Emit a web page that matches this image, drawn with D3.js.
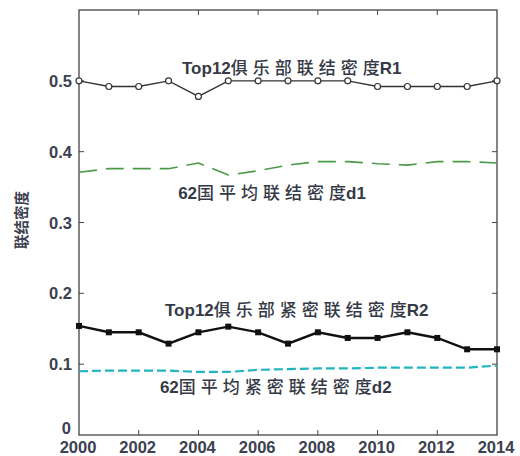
<!DOCTYPE html>
<html>
<head>
<meta charset="utf-8">
<script src="https://cdnjs.cloudflare.com/ajax/libs/d3/7.8.5/d3.min.js"></script>
<style>
  body { margin: 0; background: #fff; }
  svg { font-family: "Liberation Sans", "Noto Sans CJK SC", sans-serif; }
  .tick-label { font-size: 16.5px; font-weight: bold; fill: #3b4150; }
  .series-label { font-size: 17px; fill: #353a46; }
  .series-label .latin { font-weight: bold; }
  .series-label .cjk, .series-label .cjk-last { font-family: "Noto Sans CJK SC", sans-serif; font-weight: 500; }
  .series-label .cjk { letter-spacing: 5px; }
</style>
</head>
<body>
<div id="chart"></div>
<script>
// data
const years = d3.range(2000, 2015);
const r1 = [0.500, 0.492, 0.492, 0.500, 0.478, 0.500, 0.500, 0.500, 0.500, 0.500, 0.492, 0.492, 0.492, 0.492, 0.500];
const d1 = [0.371, 0.376, 0.376, 0.376, 0.384, 0.367, 0.373, 0.381, 0.386, 0.386, 0.383, 0.381, 0.386, 0.386, 0.384];
const r2 = [0.154, 0.145, 0.145, 0.129, 0.145, 0.153, 0.145, 0.129, 0.145, 0.137, 0.137, 0.145, 0.137, 0.121, 0.121];
const d2 = [0.090, 0.091, 0.091, 0.091, 0.089, 0.089, 0.092, 0.093, 0.094, 0.094, 0.095, 0.095, 0.095, 0.095, 0.098];
const xTicks = [2000, 2002, 2004, 2006, 2008, 2010, 2012, 2014];
const yTicks = [0, 0.1, 0.2, 0.3, 0.4, 0.5];
const labels = [
    {text: 'Top12俱乐部联结密度R1', year: 2003.45, value: 0.510},
    {text: '62国平均联结密度d1', year: 2003.32, value: 0.333},
    {text: 'Top12俱乐部紧密联结密度R2', year: 2002.88, value: 0.168},
    {text: '62国平均紧密联结密度d2', year: 2002.71, value: 0.059}
];

const width = 520, height = 456;
const margin = {top: 10, right: 23, bottom: 21, left: 79};
const w = width - margin.left - margin.right;
const h = height - margin.top - margin.bottom;

const svg = d3.select('#chart').append('svg')
    .attr('width', width)
    .attr('height', height);

const chart = svg.append('g')
    .attr('transform', `translate(${margin.left},${margin.top})`);

const x = d3.scaleLinear().domain([2000, 2014]).range([0, w]);
const y = d3.scaleLinear().domain([0, 0.6]).range([h, 0]);

// frame
chart.append('rect')
    .attr('width', w).attr('height', h)
    .attr('fill', 'none').attr('stroke', '#444').attr('stroke-width', 1.3);

// inward ticks on all four sides
const tickLen = 5;
chart.selectAll('.xt-b').data(xTicks.slice(1, -1)).enter().append('line')
    .attr('x1', d => x(d)).attr('x2', d => x(d))
    .attr('y1', h).attr('y2', h - tickLen)
    .attr('stroke', '#444');
chart.selectAll('.xt-t').data(xTicks.slice(1, -1)).enter().append('line')
    .attr('x1', d => x(d)).attr('x2', d => x(d))
    .attr('y1', 0).attr('y2', tickLen)
    .attr('stroke', '#444');
chart.selectAll('.yt-l').data(yTicks.slice(1)).enter().append('line')
    .attr('x1', 0).attr('x2', tickLen)
    .attr('y1', d => y(d)).attr('y2', d => y(d))
    .attr('stroke', '#444');
chart.selectAll('.yt-r').data(yTicks.slice(1)).enter().append('line')
    .attr('x1', w).attr('x2', w - tickLen)
    .attr('y1', d => y(d)).attr('y2', d => y(d))
    .attr('stroke', '#444');

// tick labels
chart.selectAll('.xl').data(xTicks).enter().append('text')
    .attr('class', 'tick-label')
    .attr('x', d => x(d) - 1)
    .attr('y', h + 17.5)
    .attr('text-anchor', 'middle')
    .text(d => d);
chart.selectAll('.yl').data(yTicks).enter().append('text')
    .attr('class', 'tick-label')
    .attr('x', d => d === 0 ? -8 : -7)
    .attr('y', d => y(d) + (d === 0 ? -1 : 6))
    .attr('text-anchor', 'end')
    .text(d => d === 0 ? '0' : d3.format('.1f')(d));

// y axis title
svg.append('text')
    .attr('transform', `translate(27,220) rotate(-90)`)
    .attr('text-anchor', 'middle')
    .attr('font-family', '"Noto Sans CJK SC", sans-serif')
    .attr('font-size', 14.5)
    .attr('font-weight', 'bold')
    .attr('fill', '#3b4150')
    .text('联结密度');

const line = d3.line()
    .x((d, i) => x(years[i]))
    .y(d => y(d));

// d1 green dashed
chart.append('path').datum(d1)
    .attr('d', line).attr('fill', 'none')
    .attr('stroke', '#4a9a48').attr('stroke-width', 1.6)
    .attr('stroke-dasharray', '18,9');

// d2 cyan dashed
chart.append('path').datum(d2)
    .attr('d', line).attr('fill', 'none')
    .attr('stroke', '#22b5c0').attr('stroke-width', 2.2)
    .attr('stroke-dasharray', '9,4');

// R1 thin line with open circles
chart.append('path').datum(r1)
    .attr('d', line).attr('fill', 'none')
    .attr('stroke', '#333').attr('stroke-width', 1.3);
chart.selectAll('.r1pt').data(r1).enter().append('circle')
    .attr('cx', (d, i) => x(years[i])).attr('cy', d => y(d))
    .attr('r', 3)
    .attr('fill', '#fff').attr('stroke', '#333').attr('stroke-width', 1.2);

// R2 thick line with filled squares
chart.append('path').datum(r2)
    .attr('d', line).attr('fill', 'none')
    .attr('stroke', '#111').attr('stroke-width', 2.4);
chart.selectAll('.r2pt').data(r2).enter().append('rect')
    .attr('x', (d, i) => x(years[i]) - 3).attr('y', d => y(d) - 3)
    .attr('width', 6).attr('height', 6)
    .attr('fill', '#111');

// series labels: latin runs bold, CJK runs spaced out (last CJK char unspaced)
function splitRuns(s) {
    const runs = [];
    s.match(/[\u4e00-\u9fff]+|[^\u4e00-\u9fff]+/g).forEach(r => {
        if (/[\u4e00-\u9fff]/.test(r)) {
            if (r.length > 1) runs.push({t: r.slice(0, -1), c: 'cjk'});
            runs.push({t: r.slice(-1), c: 'cjk-last'});
        } else {
            runs.push({t: r, c: 'latin'});
        }
    });
    return runs;
}
const labelText = chart.selectAll('.sl').data(labels).enter().append('text')
    .attr('class', 'series-label')
    .attr('x', d => x(d.year))
    .attr('y', d => y(d.value));
labelText.selectAll('tspan').data(d => splitRuns(d.text)).enter().append('tspan')
    .attr('class', r => r.c)
    .text(r => r.t);
</script>
</body>
</html>
